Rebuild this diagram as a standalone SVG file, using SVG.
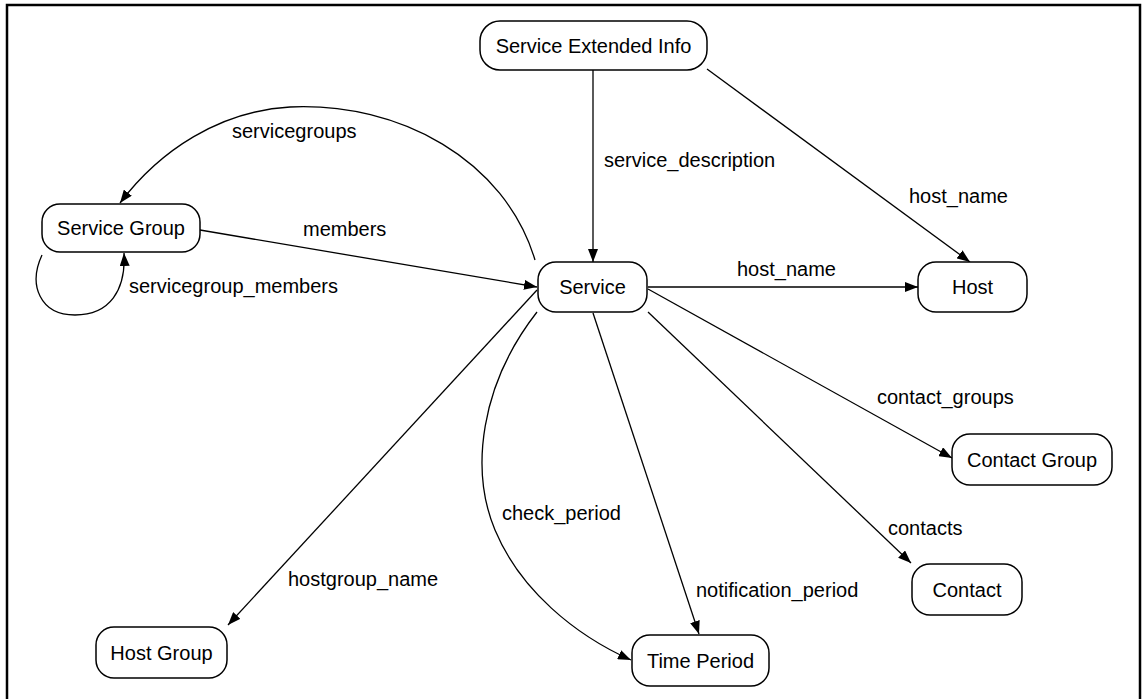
<svg xmlns="http://www.w3.org/2000/svg" width="1142" height="699" viewBox="0 0 1142 699">
<style>
.node rect{fill:#fff;stroke:#000;stroke-width:1.5}
.node text,.lbl{font-family:"Liberation Sans",Arial,sans-serif;font-size:20px;fill:#000}
.node text{text-anchor:middle}
.edge{fill:none;stroke:#000;stroke-width:1.3;marker-end:url(#arr)}
</style>
<defs>
<marker id="arr" markerUnits="userSpaceOnUse" markerWidth="14" markerHeight="10" refX="13" refY="5" orient="auto">
<path d="M0,0 L13,5 L0,10 Z" fill="#000"/>
</marker>
</defs>
<rect x="7" y="5" width="1133" height="800" fill="#fff" stroke="#000" stroke-width="2.5"/>
<g id="connectors">
<path class="edge" d="M593,70 L593,262"/>
<path class="edge" d="M707,69 L970,262"/>
<path class="edge" d="M648,287 L918,287"/>
<path class="edge" d="M200,230 L537,287"/>
<path class="edge" d="M535,260 C505,160 400,102 290,107 C220,111 160,150 120,203"/>
<path class="edge" d="M42,255 C28,285 40,315 75,315 C110,315 126,290 124,253"/>
<path class="edge" d="M537,290 L228,625"/>
<path class="edge" d="M537,312 C480,385 470,470 495,530 C520,590 575,635 631,660"/>
<path class="edge" d="M593,313 L699,634"/>
<path class="edge" d="M648,312 L911,563"/>
<path class="edge" d="M648,289 L952,458"/>
</g>
<g id="labels">
<text class="lbl" x="604" y="167">service_description</text>
<text class="lbl" x="909" y="203">host_name</text>
<text class="lbl" x="737" y="276">host_name</text>
<text class="lbl" x="303" y="236">members</text>
<text class="lbl" x="232" y="138">servicegroups</text>
<text class="lbl" x="129" y="293">servicegroup_members</text>
<text class="lbl" x="288" y="586">hostgroup_name</text>
<text class="lbl" x="502" y="520">check_period</text>
<text class="lbl" x="696" y="597">notification_period</text>
<text class="lbl" x="888" y="535">contacts</text>
<text class="lbl" x="877" y="404">contact_groups</text>
</g>
<g id="node-sei" class="node"><rect x="480" y="21" width="227" height="49" rx="20"/><text x="593.5" y="53">Service Extended Info</text></g>
<g id="node-service" class="node"><rect x="538" y="262" width="109" height="50" rx="18"/><text x="592.5" y="294">Service</text></g>
<g id="node-servicegroup" class="node"><rect x="42" y="204" width="158" height="48" rx="18"/><text x="121" y="235">Service Group</text></g>
<g id="node-host" class="node"><rect x="918" y="262" width="109" height="50" rx="18"/><text x="972.5" y="294">Host</text></g>
<g id="node-contactgroup" class="node"><rect x="952" y="434" width="160" height="51" rx="18"/><text x="1032" y="467">Contact Group</text></g>
<g id="node-contact" class="node"><rect x="912" y="564" width="110" height="51" rx="18"/><text x="967" y="597">Contact</text></g>
<g id="node-hostgroup" class="node"><rect x="96" y="627" width="131" height="51" rx="18"/><text x="161.5" y="660">Host Group</text></g>
<g id="node-timeperiod" class="node"><rect x="632" y="635" width="137" height="51" rx="18"/><text x="700.5" y="668">Time Period</text></g>
</svg>
